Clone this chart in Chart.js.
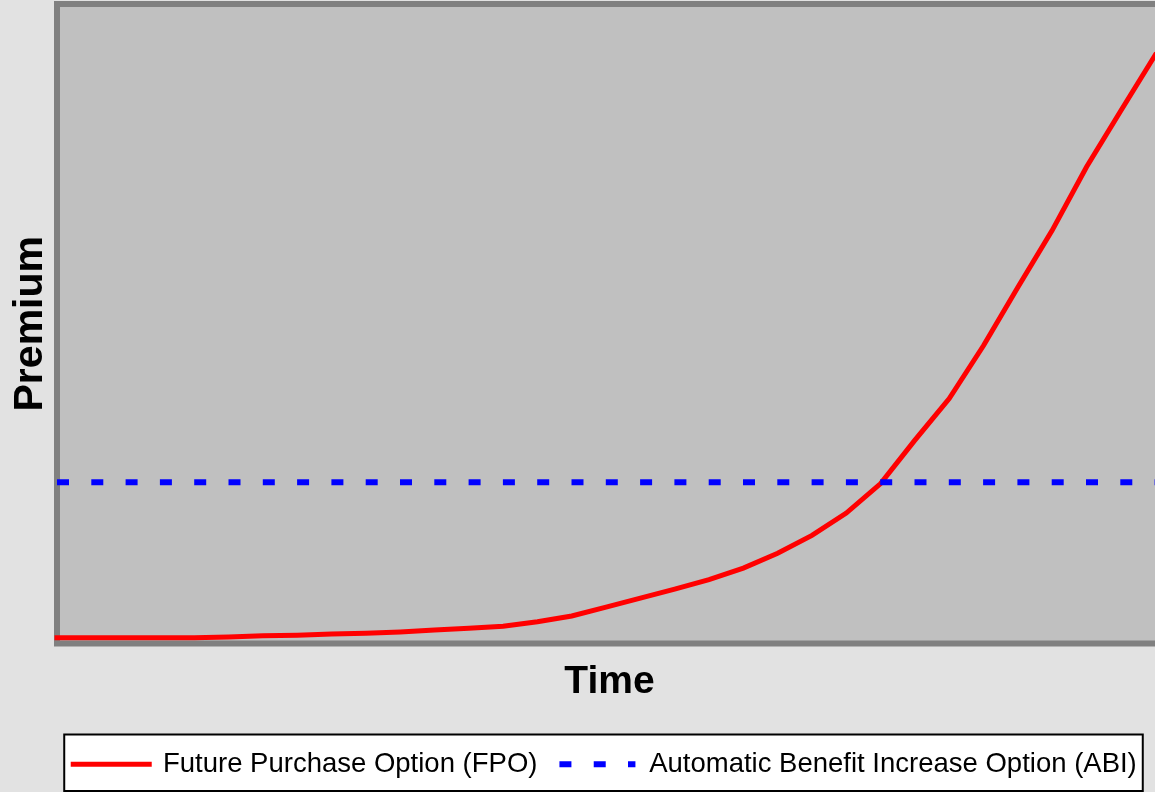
<!DOCTYPE html>
<html>
<head>
<meta charset="utf-8">
<script src="https://cdn.jsdelivr.net/npm/chart.js@4/dist/chart.umd.min.js"></script>
<style>
  html, body { margin: 0; padding: 0; background: #e2e2e2; overflow: hidden; }
  #wrap { position: relative; width: 1210px; height: 792px; }
</style>
</head>
<body>
<div id="wrap"><canvas id="chart"></canvas></div>
<script>
// time steps along the x axis
const times = [0, 1, 2, 3, 4, 5, 6, 7, 8, 9, 10, 11, 12, 13, 14, 15, 16,
               17, 18, 19, 20, 21, 22, 23, 24, 25, 26, 27, 28, 29, 30, 31, 32];
// premium of the future purchase option
const fpo = [0.9, 0.9, 0.9, 0.9, 0.9, 1.0, 1.2, 1.3, 1.5, 1.6, 1.8, 2.1, 2.4, 2.7, 3.4, 4.3, 5.7,
             7.1, 8.5, 10.0, 11.8, 14.1, 16.9, 20.4, 25.0, 31.8, 38.3, 46.6, 55.7, 64.6, 74.5, 83.3, 92.0];
// flat premium of the automatic benefit increase option
const abiLevel = 25.2;
const abi = times.map(() => abiLevel);

const labelFpo = 'Future Purchase Option (FPO)';
const labelAbi = 'Automatic Benefit Increase Option (ABI)';

const FONT = "'Liberation Sans', Arial, sans-serif";

// grey plot background + frame, white legend box
const frame = {
    id: 'frame',
    beforeDraw(chart) {
        const {ctx, chartArea: a} = chart;
        ctx.save();
        ctx.fillStyle = '#c0c0c0';
        ctx.fillRect(a.left, a.top, a.right - a.left, a.bottom - a.top);
        const lg = chart.legend;
        if (lg && lg.legendHitBoxes && lg.legendHitBoxes.length) {
            const hb = lg.legendHitBoxes;
            const x1 = hb[0].left - 9;
            const last = hb[hb.length - 1];
            const x2 = last.left + last.width + 6;
            const y1 = lg.top + 6;
            const y2 = 791;
            ctx.fillStyle = '#ffffff';
            ctx.fillRect(x1, y1, x2 - x1, y2 - y1);
            ctx.strokeStyle = '#000000';
            ctx.lineWidth = 2;
            ctx.strokeRect(x1, y1, x2 - x1, y2 - y1);
        }
        ctx.restore();
    },
    beforeDatasetsDraw(chart) {
        const {ctx, chartArea: a} = chart;
        ctx.save();
        ctx.strokeStyle = '#808080';
        ctx.lineWidth = 6;
        ctx.strokeRect(a.left, a.top, a.right - a.left, a.bottom - a.top);
        ctx.restore();
    }
};

function legendLabels(chart) {
    const items = Chart.defaults.plugins.legend.labels.generateLabels(chart);
    items.forEach(it => {
        const ds = chart.data.datasets[it.datasetIndex];
        it.lineWidth = ds.borderWidth;
        it.lineDash = ds.borderDash || [];
        it.lineCap = ds.borderCapStyle;
        it.strokeStyle = ds.borderColor;
    });
    return items;
}

function main() {
    const ctx = document.getElementById('chart').getContext('2d');
    new Chart(ctx, {
        type: 'line',
        data: {
            labels: times,
            datasets: [{
                label: labelFpo,
                data: fpo,
                borderColor: '#ff0000',
                backgroundColor: '#ff0000',
                borderWidth: 5,
                borderCapStyle: 'square',
                pointRadius: 0,
                tension: 0,
                fill: false,
                clip: false,
                order: 1
            }, {
                label: labelAbi,
                data: abi,
                borderColor: '#0000ff',
                backgroundColor: '#0000ff',
                borderWidth: 6,
                borderDash: [12, 22.3],
                borderCapStyle: 'butt',
                pointRadius: 0,
                tension: 0,
                fill: false,
                clip: false,
                order: 0
            }]
        },
        options: {
            responsive: true,
            maintainAspectRatio: false,
            animation: false,
            events: [],
            layout: { padding: { top: 4, bottom: 4, left: 0, right: 0 } },
            scales: {
                x: {
                    type: 'linear',
                    min: 0,
                    max: 32.2,
                    grid: { display: false },
                    border: { display: false },
                    ticks: { display: false },
                    title: {
                        display: true,
                        text: 'Time',
                        color: '#000',
                        font: { family: FONT, size: 39, weight: 'bold' },
                        padding: { top: 0, bottom: 23 }
                    },
                    afterFit(scale) { scale.height = 85; }
                },
                y: {
                    min: 0,
                    max: 100,
                    grid: { display: false },
                    border: { display: false },
                    ticks: { display: false },
                    title: {
                        display: true,
                        text: 'Premium',
                        color: '#000',
                        font: { family: FONT, size: 41, weight: 'bold' },
                        padding: { top: 6, bottom: 0 }
                    },
                    afterFit(scale) { scale.width = 57; }
                },
                yRight: {
                    position: 'right',
                    display: true,
                    grid: { display: false },
                    border: { display: false },
                    ticks: { display: false },
                    afterFit(scale) { scale.width = 48; }
                }
            },
            plugins: {
                tooltip: { enabled: false },
                legend: {
                    position: 'bottom',
                    labels: {
                        color: '#000',
                        font: { family: FONT, size: 27.5 },
                        usePointStyle: true,
                        pointStyle: 'line',
                        pointStyleWidth: 76,
                        padding: 22,
                        generateLabels: legendLabels,
                        sort: (a, b) => a.datasetIndex - b.datasetIndex
                    }
                }
            }
        },
        plugins: [frame]
    });
}
main();
</script>
</body>
</html>
